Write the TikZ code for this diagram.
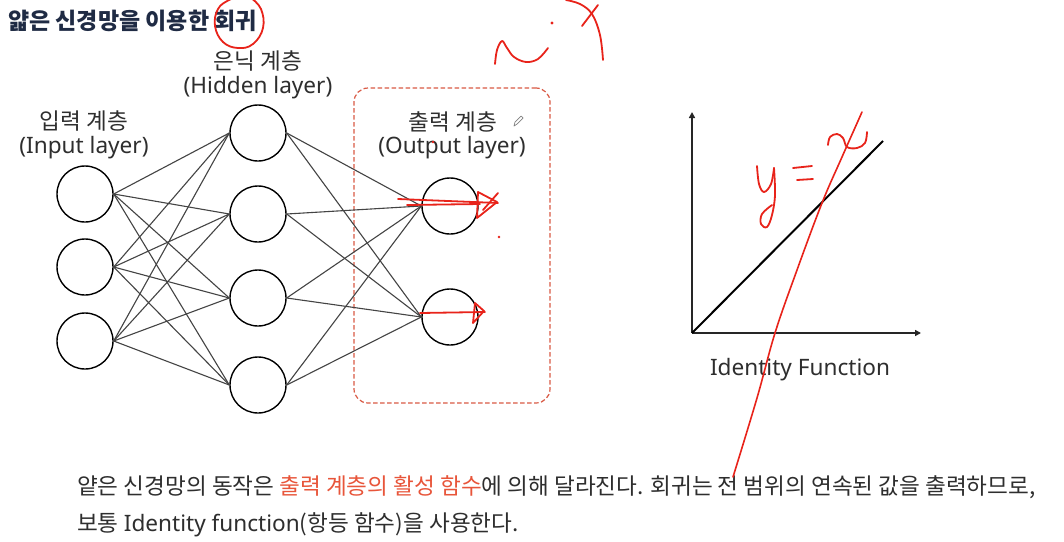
\documentclass[tikz,border=0pt]{standalone}
\usepackage{fontspec}
\setmainfont{Noto Sans CJK KR}
\newfontfamily\lat{Noto Sans}
\usetikzlibrary{arrows.meta}
\definecolor{titlecol}{HTML}{1F2B44}
\definecolor{txt}{HTML}{2E2E2E}
\definecolor{edgecol}{HTML}{444444}
\definecolor{boxred}{HTML}{D95A45}
\definecolor{hlred}{HTML}{E8553A}
\definecolor{penred}{HTML}{E8231A}
\begin{document}
\begin{tikzpicture}[x=1pt,y=-1pt,
  neuron/.style={circle, draw=black, line width=1.4pt, minimum size=56pt, inner sep=0pt},
  link/.style={draw=edgecol, line width=1.1pt},
  lbl/.style={text=txt, font=\fontsize{22.6}{26}\selectfont, inner sep=0pt},
  desc/.style={text=txt, font=\fontsize{22.6}{26}\selectfont, inner sep=0pt, anchor=west},
  axisline/.style={draw=black!85, line width=1.5pt, -{Triangle[length=6pt,width=6pt]}},
  pen/.style={draw=penred, line width=1.8pt, line cap=round, line join=round},
  pendot/.style={fill=penred, draw=none}]
\path[use as bounding box] (0,0) rectangle (1064,541);
\fill[white] (0,0) rectangle (1064,541);

% title
\node[anchor=west, inner sep=0pt, text=titlecol, font=\fontsize{23}{27}\selectfont\bfseries] (title) at (8,21) {얇은 신경망을 이용한 회귀};

% output box
\node[draw=boxred, dashed, dash pattern=on 4.5pt off 2.5pt, line width=1.2pt, rounded corners=14pt,
      minimum width=196pt, minimum height=315pt, inner sep=0pt] (outbox) at (452,245.5) {};

% neurons
\node[neuron] (i1) at (85,194) {};
\node[neuron] (i2) at (85,267) {};
\node[neuron] (i3) at (85,341) {};
\node[neuron] (h1) at (258,133) {};
\node[neuron] (h2) at (258,214) {};
\node[neuron] (h3) at (258,298) {};
\node[neuron] (h4) at (258,385) {};
\node[neuron] (o1) at (450,206) {};
\node[neuron] (o2) at (450,317) {};

\foreach \a in {i1,i2,i3}{\foreach \b in {h1,h2,h3,h4}{\draw[link] (\a.east) -- (\b.west);}}
\foreach \a in {h1,h2,h3,h4}{\foreach \b in {o1,o2}{\draw[link] (\a.east) -- (\b.west);}}

% layer labels
\node[lbl] (inlab1) at (84,121) {입력 계층};
\node[lbl] (inlab2) at (84,148) {\lat (Input layer)};
\node[lbl] (hidlab1) at (258,61) {은닉 계층};
\node[lbl] (hidlab2) at (258,88) {\lat (Hidden layer)};
\node[lbl] (outlab1) at (453,122) {출력 계층};
\node[lbl] (outlab2) at (452,148) {\lat (Output layer)};
\draw[gray, line width=0.7pt, line join=round] (514,126) -- (515,122) -- (521,116) -- (523,118) -- (517,124) -- cycle;

% identity graph
\coordinate (org) at (692,333);
\coordinate (ytop) at (692,112);
\coordinate (xend) at (921,333);
\coordinate (dend) at (883,141);
\draw[axisline] (org) -- (ytop);
\draw[axisline] (org) -- (xend);
\draw[black, line width=2pt] (org) -- (dend);
\node[lbl] (idf) at (800,370) {\lat Identity Function};

% description
\node[desc] (desc1) at (77,487) {얕은 신경망의 동작은 \textcolor{hlred}{출력 계층의 활성 함수}에 의해 달라진다. 회귀는 전 범위의 연속된 값을 출력하므로,};
\node[desc] (desc2) at (77,525) {보통 {\lat Identity function}(항등 함수)을 사용한다.};

% handwritten annotations
\draw[pen] plot[smooth, tension=0.7] coordinates {(251,-2) (261,9) (263,28) (253,44) (238,48) (223,42) (215,26) (218,9) (229,0) (240,-4)};
\draw[pen] plot[smooth, tension=0.6] coordinates {(495,64) (497,50) (502,41) (507,48) (514,57) (526,62) (538,59) (548,48)};
\fill[pendot] (552,23) circle (1.6);
\draw[pen] plot[smooth, tension=0.6] coordinates {(566,0) (580,4) (592,14) (600,35) (603,60)};
\draw[pen] (598,5) -- (582,26);

\draw[pen] (398,199) -- (498,203);
\draw[pen] (407,205) -- (480,204);
\draw[pen] (478,192) -- (477,218) -- (497,202) -- cycle;
\draw[pen] (498,193) -- (483,210);
\draw[pen] (420,313) -- (485,312);
\draw[pen] (475,303) -- (473,323) -- (484,311) -- cycle;
\fill[pendot] (433,142) circle (1.3);
\fill[pendot] (499,237) circle (1.3);

\draw[pen, line width=1.6pt] plot[smooth, tension=0.6] coordinates {(862,112) (842,157) (822,203) (797,270) (775,333) (757,398) (733,477)};
\draw[pen] plot[smooth, tension=0.6] coordinates {(757,166) (759,184) (764,192) (771,184) (774,168)};
\draw[pen] plot[smooth, tension=0.6] coordinates {(774,168) (775,195) (772,215) (767,227) (761,224) (762,214) (772,205)};
\draw[pen] (793,168) -- (812,166);
\draw[pen] (797,180) -- (813,179);
\draw[pen] plot[smooth, tension=0.6] coordinates {(828,145) (830,137) (837,134) (843,138) (847,147) (857,148) (865,143) (867,132)};
\end{tikzpicture}
\end{document}
